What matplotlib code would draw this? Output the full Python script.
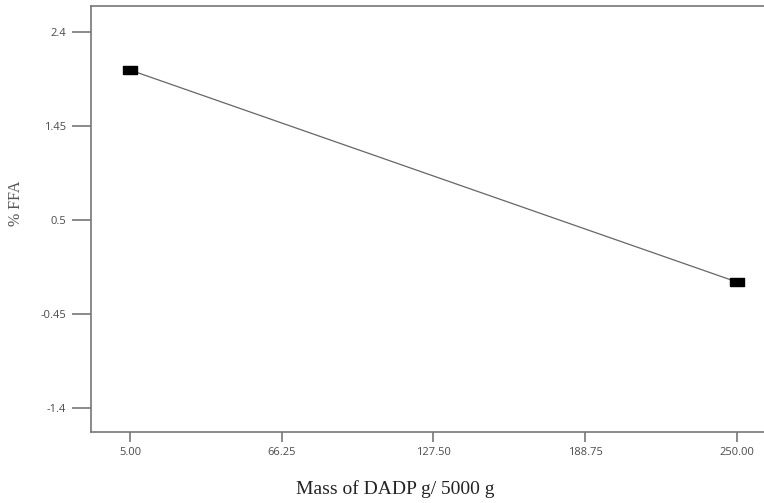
import matplotlib
matplotlib.use("Agg")
import matplotlib.pyplot as plt

# ==== DATA ====
mass = [5.00, 250.00]
ffa = [2.016, -0.127]
x_ticks = [5.00, 66.25, 127.50, 188.75, 250.00]
x_tick_labels = ["5.00", "66.25", "127.50", "188.75", "250.00"]
y_ticks = [2.4, 1.45, 0.5, -0.45, -1.4]
y_tick_labels = ["2.4", "1.45", "0.5", "-0.45", "-1.4"]

fig = plt.figure(figsize=(7.64, 5.03), dpi=100)
ax = fig.add_axes([91 / 764, 1 - 432 / 503, 1 - 91 / 764, 426 / 503])

rect = [(-1, -0.6), (1, -0.6), (1, 0.6), (-1, 0.6), (-1, -0.6)]
ax.plot(mass, ffa, color="#666666", linewidth=0.9, zorder=2)
ax.plot(mass, ffa, linestyle="none", marker=rect, markersize=10.5,
        color="black", zorder=3)

ax.set_xlim(-10.74, 260.9)
ax.set_ylim(-1.643, 2.663)

ax.set_xticks(x_ticks)
ax.set_xticklabels(x_tick_labels)
ax.set_yticks(y_ticks)
ax.set_yticklabels(y_tick_labels)

ax.tick_params(axis="y", direction="out", length=14, width=1.2, color="#777777",
               labelsize=8, labelcolor="#4a4a4a", pad=4)
ax.tick_params(axis="x", direction="out", length=7, width=1.2, color="#777777",
               labelsize=8, labelcolor="#4a4a4a", pad=4)
for lab in ax.get_xticklabels() + ax.get_yticklabels():
    lab.set_family("Open Sans")

for side in ["left", "bottom", "top"]:
    ax.spines[side].set_color("#777777")
    ax.spines[side].set_linewidth(1.2)
ax.spines["right"].set_visible(False)

ax.set_xlabel("Mass of DADP g/ 5000 g", family="Liberation Serif",
              fontsize=14, color="#222222")
ax.xaxis.set_label_coords(0.4517, -0.113)
ax.set_ylabel("% FFA", family="Liberation Serif", fontsize=11.5,
              color="#555555")
ax.yaxis.set_label_coords(-0.099, 0.5376)

plt.savefig("out.png", dpi=100)
plt.close(fig)
